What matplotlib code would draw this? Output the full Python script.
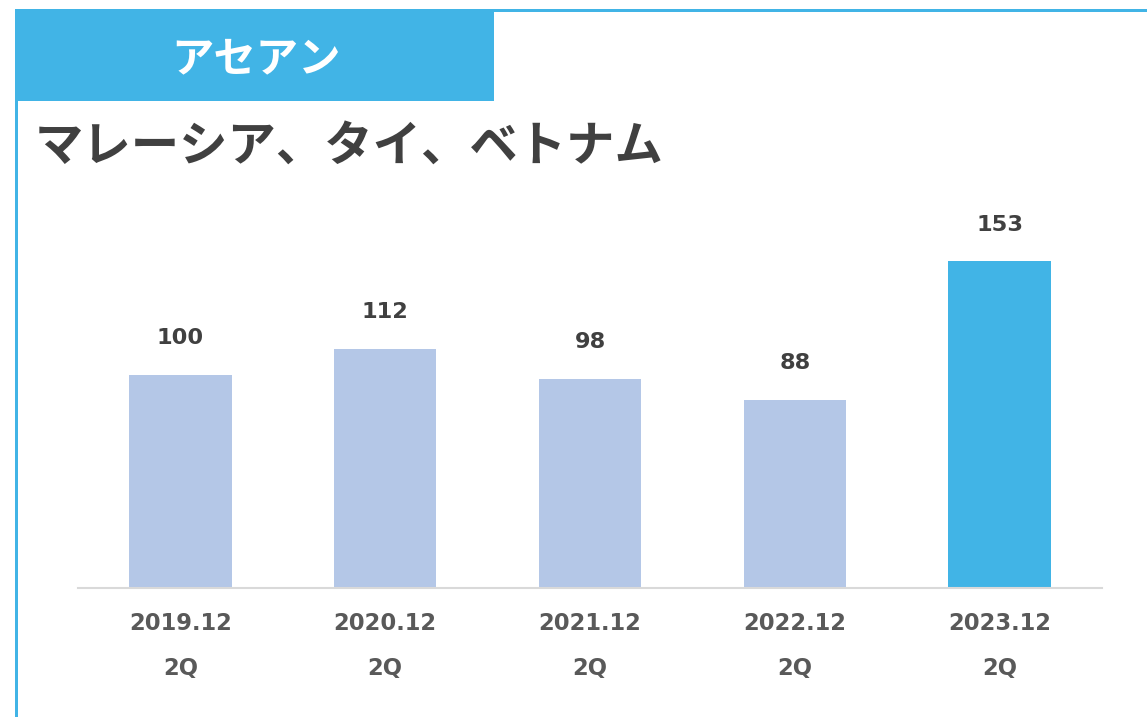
import matplotlib.pyplot as plt
from matplotlib.patches import Rectangle
from matplotlib.transforms import blended_transform_factory

plt.rcParams['font.family'] = ['Noto Sans CJK JP', 'DejaVu Sans']

# data
periods = ['2019.12', '2020.12', '2021.12', '2022.12', '2023.12']
quarters = ['2Q', '2Q', '2Q', '2Q', '2Q']
values = [100, 112, 98, 88, 153]
highlight = [False, False, False, False, True]

header = 'アセアン'
title = 'マレーシア、タイ、ベトナム'

BLUE = '#41B4E6'
LIGHT = '#B4C7E7'
DARK = '#404040'
GREY = '#595959'

W, H = 1147, 717
fig = plt.figure(figsize=(W / 100, H / 100), dpi=100)

def fx(px):
    return px / W

def fy(py):
    return 1 - py / H

# frame + header box
fig.add_artist(Rectangle((fx(15), 0), fx(3), fy(9), transform=fig.transFigure,
                         color=BLUE, lw=0))
fig.add_artist(Rectangle((fx(15), fy(12)), 1 - fx(15), fy(9) - fy(12), transform=fig.transFigure,
                         color=BLUE, lw=0))
fig.add_artist(Rectangle((fx(15), fy(101)), fx(494) - fx(15), fy(9) - fy(101), transform=fig.transFigure,
                         color=BLUE, lw=0))

fig.text(fx(256), fy(59), header, color='white', fontsize=30.5, fontweight='bold',
         ha='center', va='center')
fig.text(fx(35), fy(146), title, color=DARK, fontsize=34.8, fontweight='bold',
         ha='left', va='center')

# chart area
px_per_unit = 2.135
ymax = 180
base = 588
top = base - ymax * px_per_unit
ax = fig.add_axes([fx(78), fy(base), fx(1102) - fx(78), (base - top) / H])

x = range(len(values))
colors = [BLUE if h else LIGHT for h in highlight]
ax.bar(x, values, width=0.5, color=colors)
ax.set_xlim(-0.5, len(values) - 0.5)
ax.set_ylim(0, ymax)

for i, v in enumerate(values):
    ax.annotate(str(v), (i, v), xytext=(0, 26.5), textcoords='offset points',
                ha='center', va='center', fontsize=16.2, fontweight='bold',
                color=DARK, family='DejaVu Sans')

for s in ['top', 'right', 'left']:
    ax.spines[s].set_visible(False)
ax.spines['bottom'].set_color('#D9D9D9')
ax.spines['bottom'].set_linewidth(1.5)
ax.set_yticks([])
ax.set_xticks([])

tr = blended_transform_factory(ax.transData, fig.transFigure)
for i, (p, q) in enumerate(zip(periods, quarters)):
    ax.text(i, fy(624), p, transform=tr, ha='center', va='center', fontsize=16.3,
            fontweight='bold', color=GREY, family='DejaVu Sans')
    ax.text(i, fy(669), q, transform=tr, ha='center', va='center', fontsize=16.3,
            fontweight='bold', color=GREY, family='DejaVu Sans')

fig.savefig('out.png', dpi=100)
